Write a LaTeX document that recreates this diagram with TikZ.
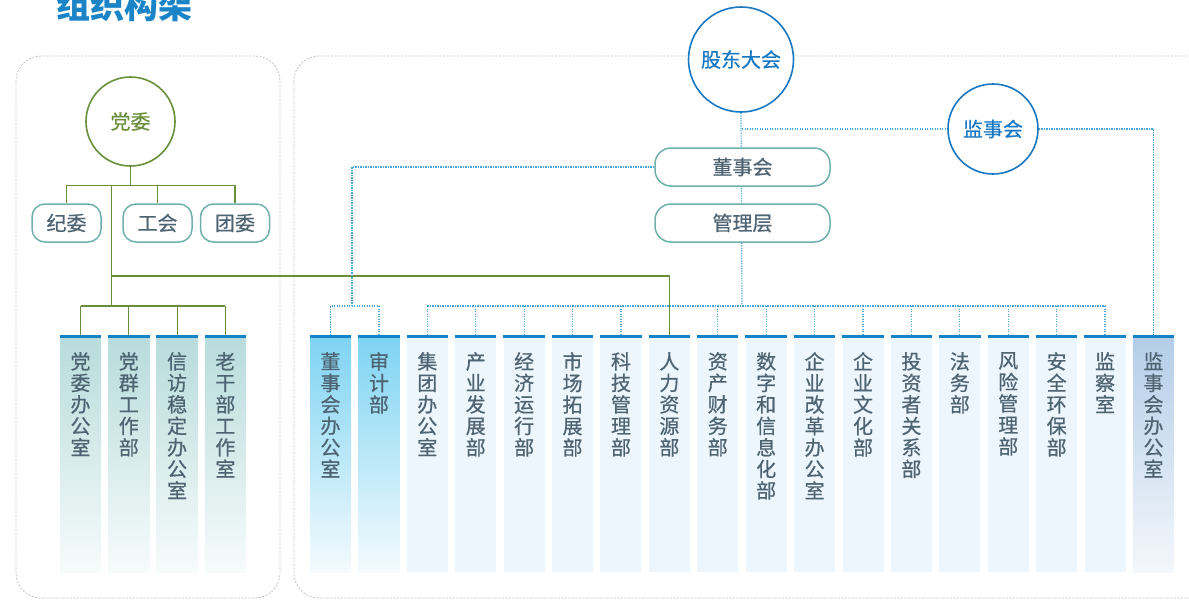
\documentclass[tikz,border=0pt]{standalone}
\usepackage{fontspec}
\setmainfont{Noto Sans CJK SC}
\newfontfamily\cjkm[FakeBold=0.6]{Noto Sans CJK SC}
\usetikzlibrary{backgrounds,calc}
\definecolor{titleblue}{HTML}{1A84C7}
\definecolor{cblue}{HTML}{1A78C2}
\definecolor{gr}{HTML}{6A8F3C}
\definecolor{teal}{HTML}{6FB0AD}
\definecolor{txt}{HTML}{4E6472}
\definecolor{dotc}{HTML}{45A6DC}
\definecolor{dashc}{HTML}{C4C4C4}
\definecolor{bar}{HTML}{1583C6}
\definecolor{tealtop}{HTML}{B7DBDB}
\definecolor{tealbot}{HTML}{F7FBFB}
\definecolor{cyantop}{HTML}{7DD3F2}
\definecolor{cyanbot}{HTML}{F5FBFE}
\definecolor{flat}{HTML}{EEF6FD}
\definecolor{lavtop}{HTML}{B3CDE8}
\definecolor{lavbot}{HTML}{F4F7FB}
\begin{document}
\begin{tikzpicture}[x=1pt,y=-1pt,
  dashbox/.style={draw=dashc,line width=0.8pt,dash pattern=on 2pt off 1.5pt,rounded corners=25pt},
  gline/.style={draw=gr,line width=1.1pt},
  dline/.style={draw=dotc,line width=1.2pt,dash pattern=on 1.3pt off 1.2pt},
  bcirc/.style={circle,draw=cblue,line width=1.6pt,fill=white,text=cblue,font=\fontsize{20}{22}\cjkm,inner sep=0,minimum size=#1},
  gcirc/.style={circle,draw=gr,line width=1.6pt,fill=white,text=gr,font=\fontsize{20}{22}\cjkm,inner sep=0,minimum size=89pt},
  pill/.style={draw=teal,line width=1.5pt,fill=white,rounded corners=13pt,text=txt,font=\fontsize{20}{22}\cjkm,inner sep=0,minimum width=#1,minimum height=38pt},
  colbox/.style={anchor=north,inner sep=0,minimum width=41pt,minimum height=237pt,draw=none},
  coltext/.style={anchor=north,inner sep=0,align=center,text=txt,font=\fontsize{20}{21.5}\cjkm},
]
\useasboundingbox (0,0) rectangle (1189,600);

% title
\node[anchor=base,text=titleblue,font=\fontsize{34}{36}\selectfont\bfseries,inner sep=0] (title) at (124.5,18) {组织构架};

% top nodes
\node[gcirc] (dw) at (130.5,121.5) {党委};
\node[pill=69pt] (jw) at (66.5,223) {纪委};
\node[pill=69pt] (gh) at (157.5,223) {工会};
\node[pill=69pt] (tw) at (235,223) {团委};

\node[bcirc=105pt] (gd) at (741,59.5) {股东大会};
\node[bcirc=90pt] (js) at (993,129) {监事会};
\node[pill=175pt,rounded corners=16pt] (dsh) at (742.5,167) {董事会};
\node[pill=175pt,rounded corners=16pt] (glc) at (742.5,223) {管理层};

% left columns
\foreach \t [count=\i from 0] in {{党\\委\\办\\公\\室},{党\\群\\工\\作\\部},{信\\访\\稳\\定\\办\\公\\室},{老\\干\\部\\工\\作\\室}} {
  \node[colbox,top color=tealtop,bottom color=tealbot] (l\i) at (80.5+48.3*\i,335) {};
  \fill[bar] (l\i.north west) rectangle ([yshift=-2.5pt]l\i.north east);
  \node[coltext] at ([yshift=-17pt]l\i.north) {\t};
}

% right columns
\foreach \t [count=\i from 0] in {{董\\事\\会\\办\\公\\室},{审\\计\\部},{集\\团\\办\\公\\室},{产\\业\\发\\展\\部},{经\\济\\运\\行\\部},{市\\场\\拓\\展\\部},{科\\技\\管\\理\\部},{人\\力\\资\\源\\部},{资\\产\\财\\务\\部},{数\\字\\和\\信\\息\\化\\部},{企\\业\\改\\革\\办\\公\\室},{企\\业\\文\\化\\部},{投\\资\\者\\关\\系\\部},{法\\务\\部},{风\\险\\管\\理\\部},{安\\全\\环\\保\\部},{监\\察\\室},{监\\事\\会\\办\\公\\室}} {
  \ifnum\i<2
    \node[colbox,top color=cyantop,bottom color=cyanbot] (r\i) at (330.5+48.41*\i,335) {};
  \else\ifnum\i=17
    \node[colbox,top color=lavtop,bottom color=lavbot] (r\i) at (330.5+48.41*\i,335) {};
  \else
    \node[colbox,fill=flat] (r\i) at (330.5+48.41*\i,335) {};
  \fi\fi
  \fill[bar] (r\i.north west) rectangle ([yshift=-2.5pt]r\i.north east);
  \node[coltext] at ([yshift=-17pt]r\i.north) {\t};
}

\coordinate (gt) at (111.7,185);
\coordinate (gb) at (111.7,306);
\coordinate (gm) at (111.7,276);
\coordinate (db) at (352,306);
\coordinate (mb) at (742,306);
\coordinate (sj) at (742,129);

\begin{scope}[on background layer]
  \draw[dashbox] (16,56) rectangle (280,598);
  \draw[dashbox] (294,56) rectangle (1230,598);
  % green
  \draw[gline] (dw.south) -- ++(0,18.5) -| (jw.north);
  \draw[gline] (dw.south) -- ++(0,18.5) -| (gh.north);
  \draw[gline] (dw.south) -- ++(0,18.5) -| (tw.north);
  \draw[gline] (gt) -- (gb);
  \draw[gline] (l0.north |- gb) -- (l3.north |- gb);
  \foreach \i in {0,...,3} \draw[gline] (l\i.north |- gb) -- (l\i.north);
  \draw[gline] (gm) -| (r7.north);
  % blue dotted
  \draw[dline] (gd.south) -- (mb);
  \draw[dline] (dsh.west) -| (db);
  \draw[dline] (r0.north) |- (db) -| (r1.north);
  \draw[dline] (r2.north |- mb) -- (r16.north |- mb);
  \foreach \i in {2,3,4,5,6,8,9,10,11,12,13,14,15,16} \draw[dline] (r\i.north |- mb) -- (r\i.north);
  \draw[dline] (sj) -- (js.west);
  \draw[dline] (js.east) -| (r17.north);
\end{scope}
\end{tikzpicture}
\end{document}
